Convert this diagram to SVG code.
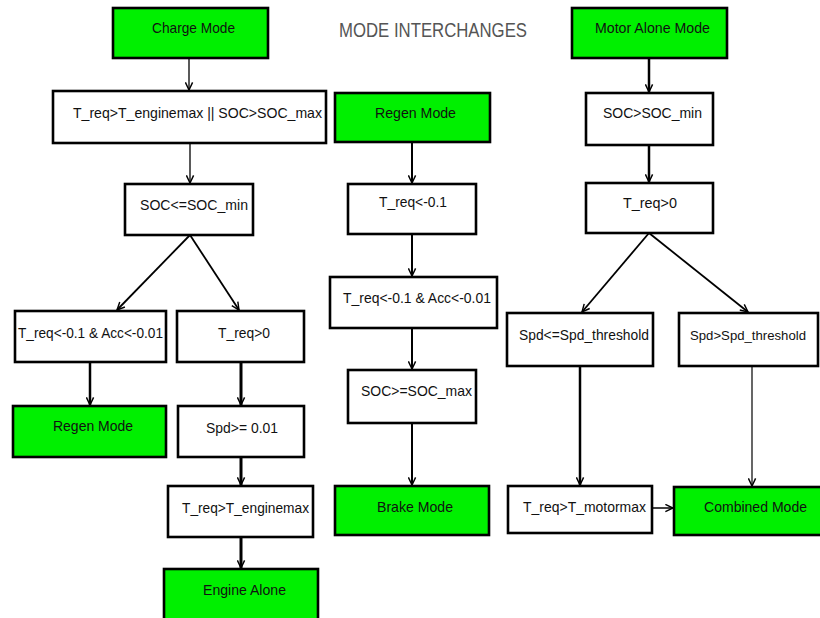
<svg xmlns="http://www.w3.org/2000/svg" width="820" height="618" viewBox="0 0 820 618">
<style>
.box{fill:#fff;stroke:#000;stroke-width:2.6}
.grn{fill:#00f000;stroke:#000;stroke-width:2.6}
.t{font-family:"Liberation Sans",Arial,sans-serif;font-size:15px;fill:#111}
.c{fill:none;stroke:#000;stroke-linecap:butt}
.title{font-family:"Liberation Sans",Arial,sans-serif;font-size:20px;fill:#555}
</style>
<defs>
<marker id="ah" viewBox="0 0 10 10" refX="9.5" refY="5" markerWidth="9" markerHeight="9" markerUnits="userSpaceOnUse" orient="auto">
<path d="M1,1 L9.5,5 L1,9" fill="none" stroke="#000" stroke-width="1.6"/>
</marker>
</defs>
<rect width="820" height="618" fill="#fff"/>
<text class="title" x="339" y="37" textLength="188" lengthAdjust="spacingAndGlyphs">MODE INTERCHANGES</text>

<g id="connectors" class="c" marker-end="url(#ah)">
<line x1="189" y1="58" x2="189" y2="90" stroke-width="1.3"/>
<line x1="190" y1="143" x2="190" y2="183" stroke-width="1.3"/>
<line x1="190" y1="235" x2="117" y2="310" stroke-width="1.8"/>
<line x1="190" y1="235" x2="239" y2="310" stroke-width="1.8"/>
<line x1="90" y1="362" x2="90" y2="405" stroke-width="2.5"/>
<line x1="241" y1="362" x2="241" y2="405" stroke-width="3"/>
<line x1="241" y1="457" x2="241" y2="485" stroke-width="3"/>
<line x1="241" y1="537" x2="241" y2="568" stroke-width="3"/>
<line x1="412" y1="142" x2="412" y2="183" stroke-width="2"/>
<line x1="412" y1="234" x2="412" y2="276" stroke-width="2"/>
<line x1="412" y1="328" x2="412" y2="369" stroke-width="2"/>
<line x1="412" y1="423" x2="412" y2="485" stroke-width="2"/>
<line x1="649" y1="58" x2="649" y2="92" stroke-width="2.5"/>
<line x1="649" y1="145" x2="649" y2="182" stroke-width="2.5"/>
<line x1="649" y1="233" x2="582" y2="312" stroke-width="1.8"/>
<line x1="649" y1="233" x2="748" y2="312" stroke-width="1.8"/>
<line x1="580" y1="366" x2="580" y2="485" stroke-width="2.5"/>
<line x1="752" y1="366" x2="752" y2="486" stroke-width="1.2"/>
<line x1="652" y1="508" x2="673" y2="508" stroke-width="1.5"/>
</g>

<g id="charge-mode"><rect class="grn" x="113" y="8" width="155" height="50"/><text class="t" x="152" y="33" textLength="83" lengthAdjust="spacingAndGlyphs">Charge Mode</text></g>
<g id="c-cond1"><rect class="box" x="53" y="91" width="273" height="52"/><text class="t" x="73" y="118" textLength="249" lengthAdjust="spacingAndGlyphs">T_req&gt;T_enginemax || SOC&gt;SOC_max</text></g>
<g id="c-soc-min"><rect class="box" x="125" y="184" width="128" height="51"/><text class="t" x="140" y="210" textLength="108" lengthAdjust="spacingAndGlyphs">SOC&lt;=SOC_min</text></g>
<g id="c-treq-acc"><rect class="box" x="15" y="311" width="151" height="51"/><text class="t" x="18" y="338" textLength="145" lengthAdjust="spacingAndGlyphs">T_req&lt;-0.1 &amp; Acc&lt;-0.01</text></g>
<g id="c-treq0"><rect class="box" x="177" y="311" width="127" height="51"/><text class="t" x="218" y="338" textLength="52" lengthAdjust="spacingAndGlyphs">T_req&gt;0</text></g>
<g id="regen-left"><rect class="grn" x="13" y="406" width="153" height="51"/><text class="t" x="53" y="431" textLength="80" lengthAdjust="spacingAndGlyphs">Regen Mode</text></g>
<g id="c-spd"><rect class="box" x="178" y="406" width="126" height="51"/><text class="t" x="206" y="433" textLength="72" lengthAdjust="spacingAndGlyphs">Spd&gt;= 0.01</text></g>
<g id="c-engmax"><rect class="box" x="168" y="486" width="145" height="51"/><text class="t" x="182" y="513" textLength="127" lengthAdjust="spacingAndGlyphs">T_req&gt;T_enginemax</text></g>
<g id="engine-alone"><rect class="grn" x="164" y="569" width="154" height="60"/><text class="t" x="203" y="595" textLength="83" lengthAdjust="spacingAndGlyphs">Engine Alone</text></g>

<g id="regen-mode"><rect class="grn" x="335" y="93" width="155" height="49"/><text class="t" x="375" y="118" textLength="81" lengthAdjust="spacingAndGlyphs">Regen Mode</text></g>
<g id="r-treq"><rect class="box" x="348" y="184" width="128" height="50"/><text class="t" x="379" y="207" textLength="68" lengthAdjust="spacingAndGlyphs">T_req&lt;-0.1</text></g>
<g id="r-treq-acc"><rect class="box" x="330" y="277" width="167" height="51"/><text class="t" x="343" y="303" textLength="148" lengthAdjust="spacingAndGlyphs">T_req&lt;-0.1 &amp; Acc&lt;-0.01</text></g>
<g id="r-soc-max"><rect class="box" x="348" y="370" width="128" height="53"/><text class="t" x="361" y="396" textLength="111" lengthAdjust="spacingAndGlyphs">SOC&gt;=SOC_max</text></g>
<g id="brake-mode"><rect class="grn" x="335" y="486" width="154" height="49"/><text class="t" x="377" y="512" textLength="76" lengthAdjust="spacingAndGlyphs">Brake Mode</text></g>

<g id="motor-alone"><rect class="grn" x="572" y="8" width="155" height="50"/><text class="t" x="595" y="33" textLength="115" lengthAdjust="spacingAndGlyphs">Motor Alone Mode</text></g>
<g id="m-soc-min"><rect class="box" x="586" y="93" width="127" height="52"/><text class="t" x="603" y="118" textLength="99" lengthAdjust="spacingAndGlyphs">SOC&gt;SOC_min</text></g>
<g id="m-treq0"><rect class="box" x="586" y="183" width="127" height="50"/><text class="t" x="623" y="208" textLength="54" lengthAdjust="spacingAndGlyphs">T_req&gt;0</text></g>
<g id="m-spd-le"><rect class="box" x="507" y="313" width="146" height="53"/><text class="t" x="519" y="340" textLength="130" lengthAdjust="spacingAndGlyphs">Spd&lt;=Spd_threshold</text></g>
<g id="m-spd-gt"><rect class="box" x="679" y="313" width="139" height="53"/><text class="t" x="690" y="340" style="font-size:13.5px" textLength="116" lengthAdjust="spacingAndGlyphs">Spd&gt;Spd_threshold</text></g>
<g id="m-motormax"><rect class="box" x="508" y="486" width="144" height="47"/><text class="t" x="523" y="512" textLength="123" lengthAdjust="spacingAndGlyphs">T_req&gt;T_motormax</text></g>
<g id="combined-mode"><rect class="grn" x="674" y="487" width="148" height="48"/><text class="t" x="704" y="512" textLength="103" lengthAdjust="spacingAndGlyphs">Combined Mode</text></g>
</svg>
